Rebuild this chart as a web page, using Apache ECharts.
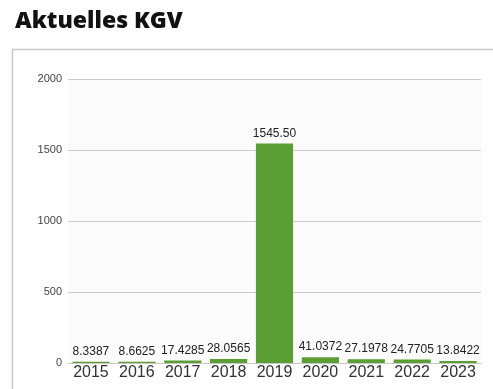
<!DOCTYPE html>
<html>
<head>
<meta charset="utf-8">
<script src="https://cdn.jsdelivr.net/npm/echarts@6/dist/echarts.min.js"></script>
<style>
  html, body { margin: 0; padding: 0; background: #fff; }
  #chart { width: 493px; height: 389px; }
</style>
</head>
<body>
<div id="chart"></div>
<script>
// Price/earnings ratio per year
const years = ['2015', '2016', '2017', '2018', '2019', '2020', '2021', '2022', '2023'];
const kgv = [8.3387, 8.6625, 17.4285, 28.0565, 1545.50, 41.0372, 27.1978, 24.7705, 13.8422];
const valueLabels = ['8.3387', '8.6625', '17.4285', '28.0565', '1545.50', '41.0372', '27.1978', '24.7705', '13.8422'];

const sans = '"Liberation Sans", Arial, sans-serif';
const chart = echarts.init(document.getElementById('chart'), null, { renderer: 'canvas' });

chart.setOption({
  animation: false,
  backgroundColor: '#ffffff',
  title: {
    text: 'Aktuelles KGV',
    left: 10,
    top: 5,
    textStyle: {
      fontFamily: '"Open Sans"',
      fontWeight: 800,
      fontSize: 23,
      color: '#111'
    }
  },
  graphic: [{
    type: 'rect',
    shape: { x: 12.5, y: 49.5, width: 520, height: 400 },
    style: { fill: 'none', stroke: '#c8c8c8', lineWidth: 1.5 },
    silent: true,
    z: -10
  }],
  grid: {
    left: 68,
    right: 12,
    top: 79,
    bottom: 26,
    show: true,
    backgroundColor: '#fbfbfb',
    borderWidth: 0
  },
  xAxis: {
    type: 'category',
    data: years,
    axisLine: { show: true, lineStyle: { color: '#c8c8c8', width: 1 } },
    axisTick: { show: false },
    axisLabel: {
      interval: 0,
      margin: 2,
      fontFamily: sans,
      fontSize: 16,
      color: '#333'
    }
  },
  yAxis: {
    type: 'value',
    min: 0,
    max: 2000,
    interval: 500,
    axisLine: { show: false },
    axisTick: { show: false },
    splitLine: { lineStyle: { color: '#cccccc', width: 1 } },
    axisLabel: {
      margin: 6,
      fontFamily: sans,
      fontSize: 11,
      color: '#444',
      formatter: (v) => String(v)
    }
  },
  series: [{
    type: 'bar',
    data: kgv,
    barCategoryGap: '19%',
    itemStyle: { color: '#5b9e34' },
    label: {
      show: true,
      position: 'top',
      distance: 4,
      fontFamily: sans,
      fontSize: 12,
      color: '#222',
      formatter: (p) => valueLabels[p.dataIndex]
    }
  }]
});
</script>
</body>
</html>
